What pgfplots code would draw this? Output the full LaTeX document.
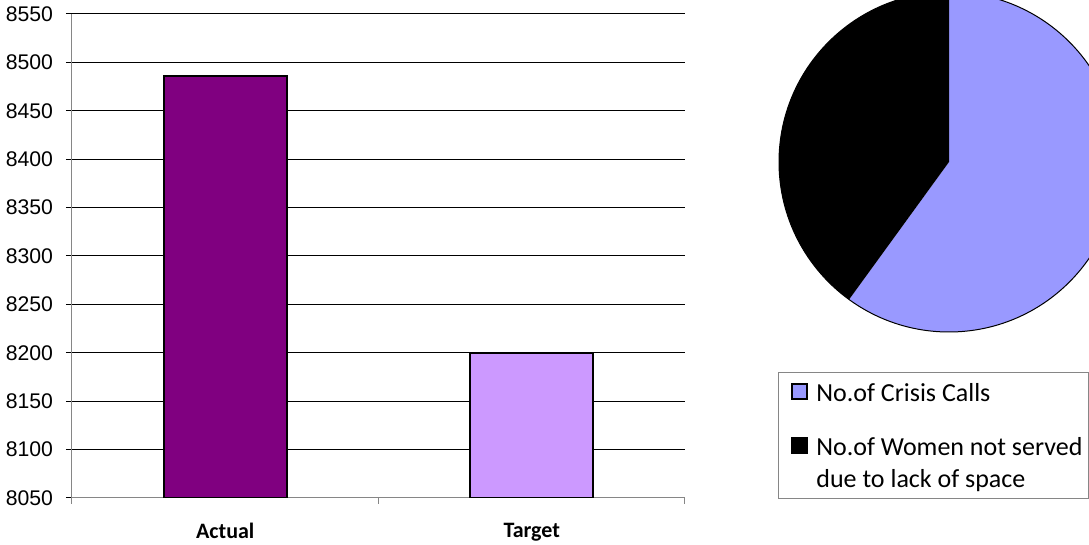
\documentclass[border=0pt]{standalone}
\usepackage{pgfplots}
\pgfplotsset{compat=1.18}
\usepackage{pgfplotstable}
\usepackage{fontspec}
\setmainfont{Carlito}
\newfontfamily\arialfont{Liberation Sans}
\definecolor{actualc}{HTML}{800080}
\definecolor{targetc}{HTML}{CC99FF}
\definecolor{crisisc}{HTML}{9999FF}
\definecolor{axisc}{HTML}{868686}

% pie shares (crisis calls, women not served)
\pgfplotstableread{
label value
Crisis 60
Women 40
}\piedata

\begin{document}
\begin{tikzpicture}
\path[use as bounding box] (0,0) rectangle (544.5pt,272.5pt);
\clip (0,0) rectangle (544.5pt,272.5pt);

% bar chart
\begin{axis}[
    at={(36pt,23.5pt)}, anchor=south west,
    scale only axis, width=306.5pt, height=242pt,
    ybar, bar width=0.4,
    xmin=-0.5, xmax=1.5, ymin=8050, ymax=8550,
    xtick={0,1}, xticklabels={Actual,Target},
    minor xtick={-0.5,0.5,1.5},
    ytick distance=50,
    axis x line*=bottom, axis y line*=left,
    axis line style={draw=axisc, line width=0.5pt},
    ymajorgrids, grid style={black, line width=0.5pt},
    tick align=outside,
    major tick length=3pt, minor tick length=3pt,
    major x tick style={draw=none},
    minor x tick style={draw=axisc, line width=0.5pt},
    ytick style={draw=black, line width=0.5pt},
    /pgf/number format/assume math mode=true,
    /pgf/number format/1000 sep={},
    yticklabel style={font=\arialfont\fontsize{10.6}{12}\selectfont, xshift=-3pt},
    xticklabel style={font=\bfseries\fontsize{11}{12}\selectfont, yshift=-6pt},
]
\addplot[fill=actualc, draw=black, line width=1pt, bar shift=0pt] coordinates {(0,8486)};
\addplot[fill=targetc, draw=black, line width=1pt, bar shift=0pt] coordinates {(1,8200)};
\end{axis}

% pie chart
\pgfplotstablegetelem{0}{value}\of\piedata \let\vA\pgfplotsretval
\pgfplotstablegetelem{1}{value}\of\piedata \let\vB\pgfplotsretval
\pgfmathsetmacro\angB{90+360*\vB/(\vA+\vB)}
\begin{axis}[
    at={(474.5pt,191.5pt)}, anchor=center,
    hide axis, x=1pt, y=1pt,
    xmin=-85, xmax=85, ymin=-85, ymax=85, clip=false,
]
\fill[crisisc] (axis cs:0,0) -- ++(\angB:85pt) arc[start angle=\angB, end angle=450, radius=85pt] -- cycle;
\fill[black] (axis cs:0,0) -- ++(90:85pt) arc[start angle=90, end angle=\angB, radius=85pt] -- cycle;
\draw[black, line width=0.5pt] (axis cs:0,0) circle[radius=85pt];
% legend
\draw[axisc, line width=0.5pt] (axis cs:-85,-105) rectangle (axis cs:69.5,-168);
\draw[black, line width=0.7pt, fill=crisisc] (axis cs:-78.5,-111) rectangle (axis cs:-71,-118.5);
\draw[black, line width=0.7pt, fill=black] (axis cs:-78.5,-138) rectangle (axis cs:-71,-145.5);
\begin{scope}[every node/.style={anchor=base west, inner sep=0pt, font=\fontsize{13}{16}\selectfont}]
\node at (axis cs:-66.5,-119.5) {No.of Crisis Calls};
\node at (axis cs:-66.5,-146.5) {No.of Women not served};
\node at (axis cs:-66.5,-162.5) {due to lack of space};
\end{scope}
\end{axis}
\end{tikzpicture}
\end{document}
